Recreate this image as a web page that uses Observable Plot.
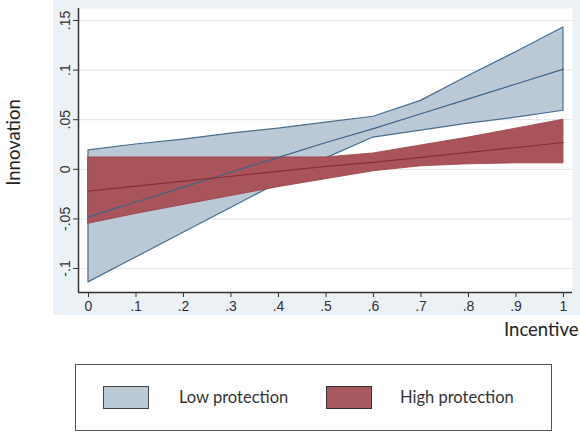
<!DOCTYPE html>
<html>
<head>
<meta charset="utf-8">
<script src="https://cdn.jsdelivr.net/npm/d3@7"></script>
<script src="https://cdn.jsdelivr.net/npm/@observablehq/plot@0.6"></script>
<style>
  html, body { margin: 0; padding: 0; background: #ffffff; }
  #wrap { position: relative; width: 580px; height: 432px; overflow: hidden; }
  #bg { position: absolute; left: 53px; top: 0; width: 527px; height: 315px; background: #ebf1f5; }
  #chart { position: absolute; left: 0; top: 0; }
  #legend { position: absolute; left: 75px; top: 364px; width: 475px; height: 65px; border: 1px solid #555; background: #fff;
            font-family: Lato, "Open Sans", sans-serif; font-size: 16.5px; color: #333; }
  .sw { position: absolute; top: 21px; width: 46px; height: 23px; box-sizing: border-box; border: 1px solid #444; }
  .lt { position: absolute; top: 21px; line-height: 22px; }
</style>
</head>
<body>
<div id="wrap">
  <div id="bg"></div>
  <div id="chart"></div>
  <div id="legend">
    <div class="sw" style="left:27px;background:#bccad6;"></div>
    <div class="lt" style="left:103px;">Low protection</div>
    <div class="sw" style="left:250px;background:#a85a60;border-color:#333;"></div>
    <div class="lt" style="left:324px;">High protection</div>
  </div>
</div>
<script>
// ---- data ----
const incentive  = [0, 0.1, 0.2, 0.3, 0.4, 0.5, 0.6, 0.7, 0.8, 0.9, 1];
const lowUpper   = [0.019, 0.025, 0.030, 0.036, 0.041, 0.047, 0.053, 0.069, 0.094, 0.118, 0.143];
const lowLower   = [-0.114, -0.089, -0.064, -0.039, -0.014, 0.011, 0.032, 0.039, 0.046, 0.052, 0.059];
const lowFit     = [-0.048, -0.033, -0.018, -0.003, 0.012, 0.027, 0.041, 0.056, 0.071, 0.086, 0.101];
const highUpper  = [0.012, 0.012, 0.012, 0.012, 0.012, 0.012, 0.016, 0.024, 0.032, 0.041, 0.050];
const highLower  = [-0.055, -0.045, -0.036, -0.027, -0.018, -0.010, -0.002, 0.003, 0.005, 0.006, 0.006];
const highFit    = [-0.022, -0.017, -0.012, -0.007, -0.002, 0.003, 0.007, 0.012, 0.017, 0.022, 0.027];
const xTicks     = [0, 0.1, 0.2, 0.3, 0.4, 0.5, 0.6, 0.7, 0.8, 0.9, 1];
const xTickLabels = ["0", ".1", ".2", ".3", ".4", ".5", ".6", ".7", ".8", ".9", "1"];
const yTicks     = [-0.1, -0.05, 0, 0.05, 0.1, 0.15];
const yTickLabels = ["-.1", "-.05", "0", ".05", ".1", ".15"];
const xTitle = "Incentive";
const yTitle = "Innovation";

const low  = incentive.map((x, i) => ({x, lo: lowLower[i], hi: lowUpper[i], fit: lowFit[i]}));
const high = incentive.map((x, i) => ({x, lo: highLower[i], hi: highUpper[i], fit: highFit[i]}));

const xDomain = [-0.021, 1.019];
const yDomain = [-0.1242, 0.1621];

const tickFont = "Liberation Sans, Arial, sans-serif";

const chart = Plot.plot({
  width: 580,
  height: 355,
  marginLeft: 78,
  marginRight: 8,
  marginTop: 8,
  marginBottom: 63,
  style: { background: "transparent", fontFamily: tickFont, fontSize: "14px", color: "#333" },
  x: { domain: xDomain },
  y: { domain: yDomain },
  marks: [
    Plot.frame({ fill: "white", stroke: "none" }),
    Plot.gridY(yTicks, { stroke: "#e2eaf0", strokeOpacity: 1, strokeWidth: 1.2 }),
    Plot.areaY(low, { x: "x", y1: "lo", y2: "hi", fill: "#bac9d5", stroke: "#4a6d90", strokeWidth: 1.2 }),
    Plot.areaY(high, { x: "x", y1: "lo", y2: "hi", fill: "#a9545b", stroke: "#9a3f46", strokeWidth: 0.8 }),
    Plot.lineY(low, { x: "x", y: "fit", stroke: "#3f6388", strokeWidth: 1.2 }),
    Plot.lineY(high, { x: "x", y: "fit", stroke: "#8c2c35", strokeWidth: 1.2 }),
    Plot.ruleX([xDomain[0]], { stroke: "#333", strokeWidth: 1.5 }),
    Plot.ruleY([yDomain[0]], { stroke: "#333", strokeWidth: 1.5 }),
    Plot.axisX({ ticks: xTicks, tickSize: 5, tickPadding: 4, tickFormat: (d, i) => xTickLabels[i], label: null, fontSize: 14, stroke: "#333" }),
    Plot.axisY({ ticks: yTicks, tickSize: 5, tickFormat: () => "", label: null, stroke: "#333" }),
    Plot.text(yTicks, { y: d => d, text: (d, i) => yTickLabels[i], frameAnchor: "left", dx: -13, rotate: -90, textAnchor: "middle", fontSize: 14, fill: "#333" }),
    Plot.text([xTitle], { frameAnchor: "bottom-right", dx: 6, dy: 43, textAnchor: "end", fontSize: 18.5, fontFamily: "Lato, sans-serif", fill: "#222" }),
    Plot.text([yTitle], { frameAnchor: "left", dx: -64, dy: -8, rotate: -90, textAnchor: "middle", fontSize: 18.5, fontFamily: "Lato, sans-serif", fill: "#222" })
  ]
});
document.getElementById("chart").appendChild(chart);
</script>
</body>
</html>
